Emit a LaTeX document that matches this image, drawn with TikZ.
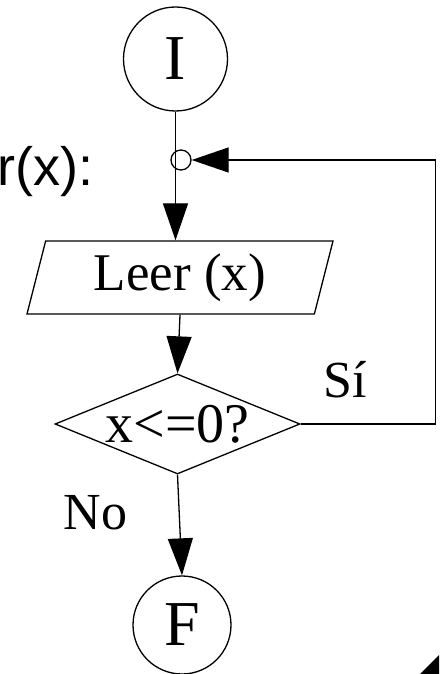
\documentclass[tikz,border=0pt]{standalone}
\usepackage{fontspec}
\setmainfont{Liberation Serif}
\newfontfamily\labelsans{Liberation Sans}
\usepackage{tikz}
\usetikzlibrary{shapes.geometric, positioning, arrows.meta}

\begin{document}
\begin{tikzpicture}[x=1pt, y=-1pt, line width=1.3pt, >={Triangle[length=37pt, width=25pt]},
    term/.style={circle, draw, minimum size=104pt, inner sep=0pt, font=\fontsize{64}{70}\selectfont},
    io/.style={trapezium, draw, trapezium left angle=68.8, trapezium right angle=111.2,
               trapezium stretches body, minimum width=306pt, minimum height=73pt,
               inner sep=0pt, font=\fontsize{53}{58}\selectfont},
    decision/.style={diamond, draw, aspect=2.45, minimum width=245pt, minimum height=100pt,
                     inner sep=0pt, font=\fontsize{56}{60}\selectfont},
    junct/.style={circle, draw, minimum size=20pt, inner sep=0pt},
    lbl/.style={anchor=base west, inner sep=0pt, font=\fontsize{52}{56}\selectfont}]
    \useasboundingbox (0,0) rectangle (439,674);

    \node[term]                    (I)    at (175.5,59)  {I};
    \node[junct]                   (j)    at (181,160)   {};
    \node[io]                      (leer) at (180,277.5) {Leer (x)};
    \node[decision]                (cond) at (177.5,424) {\raisebox{-5pt}{x<=0?}};
    \node[term, minimum size=98pt] (F)    at (182,625)   {F};

    \node[lbl] (si) at (323,397) {Sí};
    \node[lbl] (no) at (63,529)  {No};
    \node[lbl, font=\labelsans\fontsize{54}{60}\selectfont] (rx) at (-3,185) {r(x):};

    \draw[->] (I) -- (I |- leer.north);
    \draw[->] (leer.south) -- (cond.north);
    \draw[->] (cond.south) -- (F.north);
    \draw[->] (cond.east) -- ++(135,0) |- (j.east);

    % corner mark
    \fill (420,674) -- (439,655) -- (439,674) -- cycle;
\end{tikzpicture}
\end{document}
